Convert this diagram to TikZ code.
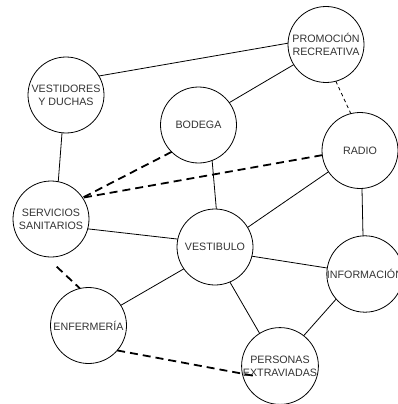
\documentclass[tikz,border=0pt]{standalone}
\usepackage{fontspec}
\setmainfont{Liberation Sans}
\usepackage{xcolor}
\usepackage{tikz}

\begin{document}
\begin{tikzpicture}[x=1pt,y=-1pt,
		area/.style={circle,draw=black,line width=0.8pt,minimum size=76pt,
			inner sep=0pt,outer sep=0pt,align=center,text=black!80,
			font=\fontsize{10.7}{13}\selectfont},
		enlace/.style={black,line width=0.8pt},
		trazos/.style={black,line width=1.8pt,dash pattern=on 8pt off 5pt},
		puntos/.style={black,line width=0.8pt,dash pattern=on 3.5pt off 3pt}]
		
		% Ventana
		\useasboundingbox (0,0) rectangle (398,404);
		
		% Areas
		\node[area] (prom)   at (326,44.5)  {PROMOCIÓN\\RECREATIVA};
		\node[area] (vest)   at (66,95)     {VESTIDORES\\Y DUCHAS};
		\node[area] (bod)    at (198.5,125) {BODEGA};
		\node[area] (radio)  at (360,150.5) {RADIO};
		\node[area] (serv)   at (51,219)    {SERVICIOS\\SANITARIOS};
		\node[area] (vestib) at (215,247)   {VESTIBULO};
		\node[area] (info)   at (365,274)   {INFORMACIÓN};
		\node[area] (enf)    at (88.5,325.5){ENFERMERÍA};
		\node[area] (pers)   at (280,366)   {PERSONAS\\EXTRAVIADAS};
		
		% Extremos libres
		\coordinate (ini) at (56.7,266.7);
		\coordinate (fin) at (255,376);
		
		% Enlaces directos
		\draw[enlace] (vest.30)    -- (prom.178);
		\draw[enlace] (vest.-96)   -- (serv.79);
		\draw[enlace] (bod.36)     -- (prom.212);
		\draw[enlace] (bod.-69)    -- (vestib.88);
		\draw[enlace] (serv.-15)   -- (vestib.168);
		\draw[enlace] (radio.214)  -- (vestib.31);
		\draw[enlace] (radio.-87)  -- (info.93);
		\draw[enlace] (vestib.-14) -- (info.171);
		\draw[enlace] (vestib.215) -- (enf.32);
		\draw[enlace] (vestib.-67) -- (pers.122);
		\draw[enlace] (info.221)   -- (pers.52);
		
		% Enlaces indirectos
		\draw[puntos] (prom.-75)  -- (radio.104);
		\draw[trazos] (bod.225)   -- (serv.34);
		\draw[trazos] (radio.187) -- (serv.34);
		\draw[trazos] (ini)       -- (enf.103);
		\draw[trazos] (enf.-41)   -- (fin);
		
	\end{tikzpicture}
\end{document}
